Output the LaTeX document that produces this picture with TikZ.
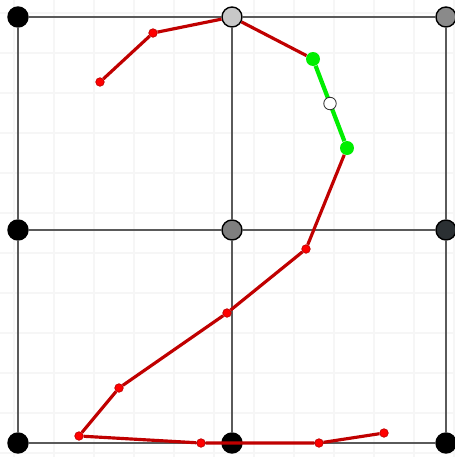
\documentclass[tikz,border=0pt]{standalone}
\usepackage{xcolor}
\usepackage{tikz}
\usetikzlibrary{positioning}
\definecolor{gridfaint}{HTML}{F6F6F6}
\definecolor{gridline}{HTML}{5A5A5A}
\definecolor{strokered}{HTML}{C00000}
\definecolor{dotred}{HTML}{FF0000}
\definecolor{dotgreen}{HTML}{00EE00}
\definecolor{shadelight}{HTML}{C8C8C8}
\definecolor{shademid}{HTML}{8A8A8A}
\definecolor{shadecentre}{HTML}{7F7F7F}
\definecolor{shadedark}{HTML}{2B3033}

\begin{document}
\begin{tikzpicture}[x=0.02cm, y=-0.02cm,
  anchorpt/.style={circle, draw=black, line width=0.8pt, minimum size=0.4cm, inner sep=0pt},
  strokept/.style={circle, fill=dotred, draw=strokered, line width=0.4pt, minimum size=0.17cm, inner sep=0pt},
  handlept/.style={circle, fill=dotgreen, draw=none, minimum size=0.28cm, inner sep=0pt},
  midpt/.style={circle, fill=white, draw=black!80, line width=0.5pt, minimum size=0.25cm, inner sep=0pt},
  redline/.style={strokered, line width=1.8pt},
  greenline/.style={dotgreen, line width=2.4pt}]
\useasboundingbox (0,0) rectangle (454,457);
% faint background grid, 40px apart
\foreach \x in {14,54,...,454} {
  \draw[gridfaint, line width=1.1pt] (\x,0) -- (\x,457);
}
\foreach \y in {13,53,...,453} {
  \draw[gridfaint, line width=1.1pt] (0,\y) -- (454,\y);
}
% the 3x3 anchor points
\node[anchorpt, fill=black]       (a00) at (18,17) {};
\node[anchorpt, fill=shadelight]  (a10) at (232,17) {};
\node[anchorpt, fill=shademid]    (a20) at (446,17) {};
\node[anchorpt, fill=black]       (a01) at (18,230) {};
\node[anchorpt, fill=shadecentre] (a11) at (232,230) {};
\node[anchorpt, fill=shadedark]   (a21) at (446,230) {};
\node[anchorpt, fill=black]       (a02) at (18,443) {};
\node[anchorpt, fill=black]       (a12) at (232,443) {};
\node[anchorpt, fill=black]       (a22) at (446,443) {};
\foreach \r in {0,1,2} {
  \draw[gridline, line width=1.2pt] (a0\r) -- (a1\r) -- (a2\r);
  \draw[gridline, line width=1.2pt] (a\r0) -- (a\r1) -- (a\r2);
}
% stroke points of the figure
\node[strokept] (s1)  at (100,82) {};
\node[strokept] (s2)  at (153,33) {};
\node[handlept] (h1)  at (313,59) {};
\node[handlept] (h2)  at (347,148) {};
\node[strokept] (s3)  at (306,249) {};
\node[strokept] (s4)  at (227,313) {};
\node[strokept] (s5)  at (119,388) {};
\node[strokept] (s6)  at (79,436) {};
\node[strokept] (s7)  at (201,443) {};
\node[strokept] (s8)  at (319,443) {};
\node[strokept] (s9)  at (384,433) {};
\draw[redline] (s1) -- (s2) -- (a10) -- (h1);
\draw[greenline] (h1) -- node[midpt] (hm) {} (h2);
\draw[redline] (h2) -- (s3) -- (s4) -- (s5) -- (s6) -- (s7) -- (s8) -- (s9);
\end{tikzpicture}
\end{document}
